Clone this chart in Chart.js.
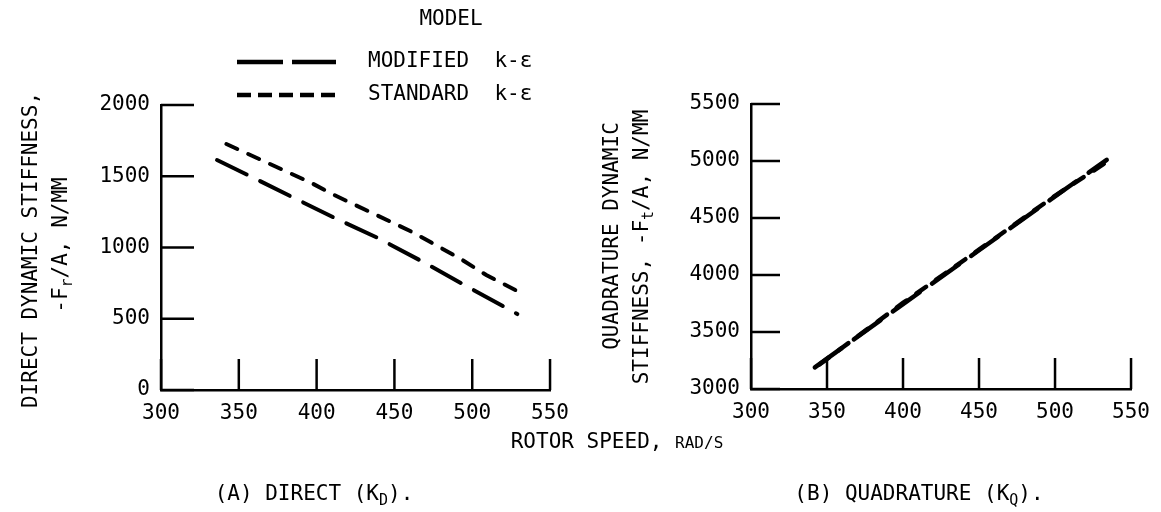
<!DOCTYPE html>
<html>
<head>
<meta charset="utf-8">
<script src="https://cdn.jsdelivr.net/npm/chart.js@4.4.1/dist/chart.umd.min.js"></script>
<style>
  body { margin: 0; background: #fff; }
  #wrap { position: relative; width: 1161px; height: 512px; overflow: hidden; font-family: 'DejaVu Sans Mono', monospace; color: #000; }
  .box { position: absolute; top: 0; height: 512px; }
  .t { position: absolute; white-space: pre; font-size: 21px; line-height: 1; }
  .rot { transform: translate(-50%, -50%) rotate(-90deg); }
  .ctr { transform: translate(-50%, -50%); }
  sub { font-size: 15px; vertical-align: -5px; line-height: 0; }
  small { font-size: 16px; }
</style>
</head>
<body>
<div id="wrap">
  <div class="box" style="left:0;width:580px"><canvas id="direct"></canvas></div>
  <div class="box" style="left:580px;width:581px"><canvas id="quad"></canvas></div>

  <div class="t rot" style="left:30px;top:250px">DIRECT DYNAMIC STIFFNESS,</div>
  <div class="t rot" style="left:60px;top:245px">-F<sub>r</sub>/A, N/MM</div>
  <div class="t rot" style="left:611px;top:236px">QUADRATURE DYNAMIC</div>
  <div class="t rot" style="left:641px;top:247px">STIFFNESS, -F<sub>t</sub>/A, N/MM</div>

  <div class="t ctr" style="left:617px;top:441px">ROTOR SPEED, <small>RAD/S</small></div>
  <div class="t ctr" style="left:314px;top:493px">(A) DIRECT (K<sub>D</sub>).</div>
  <div class="t ctr" style="left:919px;top:493px">(B) QUADRATURE (K<sub>Q</sub>).</div>
</div>

<script>
Chart.defaults.font.family = "'DejaVu Sans Mono', monospace";
Chart.defaults.font.size = 21;
Chart.defaults.color = '#000';

// (A) direct stiffness, N/mm vs rotor speed, rad/s
const directSpeedModified = [336, 357, 386, 412, 439, 467, 495, 529];
const directModified      = [1614, 1502, 1345, 1205, 1069, 907, 737, 533];
const directSpeedStandard = [342, 369, 397, 410, 461, 492, 509, 531];
const directStandard      = [1726, 1591, 1451, 1375, 1111, 924, 807, 683];

// (B) quadrature stiffness
const quadSpeedModified = [342, 400, 450, 500, 534];
const quadModified      = [3190, 3745, 4217, 4690, 5010];
const quadSpeedStandard = [345, 400, 450, 500, 535];
const quadStandard      = [3215, 3755, 4222, 4695, 5000];

const speedTicks = [300, 350, 400, 450, 500, 550];
const directTicks = [0, 500, 1000, 1500, 2000];
const quadTicks = [3000, 3500, 4000, 4500, 5000, 5500];

const MODIFIED_DASH = [33, 15];
const STANDARD_DASH = [12, 12];

const toXY = (xs, ys) => xs.map((x, i) => ({ x, y: ys[i] }));

// short tick marks drawn inward from the axes
const inwardTicks = {
  id: 'inwardTicks',
  afterDraw(chart, args, opts) {
    const { ctx, chartArea: a, scales: { x, y } } = chart;
    ctx.save();
    ctx.strokeStyle = '#000';
    ctx.lineWidth = 2.5;
    x.ticks.forEach(t => {
      const px = x.getPixelForValue(t.value);
      ctx.beginPath(); ctx.moveTo(px, a.bottom); ctx.lineTo(px, a.bottom - opts.xLen); ctx.stroke();
    });
    y.ticks.forEach(t => {
      const py = y.getPixelForValue(t.value);
      ctx.beginPath(); ctx.moveTo(a.left, py); ctx.lineTo(a.left + opts.yLen, py); ctx.stroke();
    });
    ctx.restore();
  }
};

// "MODEL" legend above the left panel
const modelLegend = {
  id: 'modelLegend',
  afterDraw(chart, args, opts) {
    if (!opts.show) return;
    const ctx = chart.ctx;
    ctx.save();
    ctx.fillStyle = '#000';
    ctx.font = "21px 'DejaVu Sans Mono', monospace";
    ctx.textBaseline = 'middle';
    ctx.textAlign = 'center';
    ctx.fillText(opts.title, opts.titleX, opts.titleY);
    ctx.textAlign = 'left';
    chart.data.datasets.forEach((ds, i) => {
      const y = opts.rows[i];
      ctx.strokeStyle = '#000';
      ctx.lineWidth = 4.5;
      ctx.setLineDash(opts.dashes[i]);
      ctx.beginPath(); ctx.moveTo(opts.x, y); ctx.lineTo(opts.x + opts.width, y); ctx.stroke();
      ctx.setLineDash([]);
      ctx.fillText(ds.label, opts.textX, y);
    });
    ctx.restore();
  }
};

function makeChart(id, cfg) {
  const series = (label, data, dash, width) => ({
    label, data, borderColor: '#000', borderWidth: width, borderDash: dash,
    borderCapStyle: 'round', pointRadius: 0, tension: 0, fill: false
  });
  return new Chart(document.getElementById(id), {
    type: 'line',
    data: {
      datasets: [
        series('MODIFIED  k-ε', cfg.modified, MODIFIED_DASH, cfg.lineWidth),
        series('STANDARD  k-ε', cfg.standard, STANDARD_DASH, cfg.lineWidth)
      ]
    },
    options: {
      responsive: false,
      animation: false,
      layout: { padding: cfg.padding },
      plugins: {
        legend: { display: false },
        tooltip: { enabled: false },
        inwardTicks: { xLen: 31, yLen: cfg.yTickLen },
        modelLegend: cfg.legend
      },
      scales: {
        x: {
          type: 'linear', min: 300, max: 550,
          afterBuildTicks: s => { s.ticks = speedTicks.map(v => ({ value: v })); },
          afterFit: s => { s.height = cfg.xHeight; },
          grid: { display: false, drawTicks: false },
          border: { display: true, color: '#000', width: 2.5 },
          ticks: { padding: 11, maxRotation: 0, callback: v => String(v) }
        },
        y: {
          type: 'linear', min: cfg.yTicks[0], max: cfg.yTicks[cfg.yTicks.length - 1],
          afterBuildTicks: s => { s.ticks = cfg.yTicks.map(v => ({ value: v })); },
          afterFit: s => { s.width = cfg.yWidth; },
          grid: { display: false, drawTicks: false },
          border: { display: true, color: '#000', width: 2.5 },
          ticks: { padding: 11, callback: v => String(v) }
        }
      }
    },
    plugins: [inwardTicks, modelLegend]
  });
}

function sizeCanvas(id, w, h) {
  const c = document.getElementById(id);
  c.width = w; c.height = h;
  c.style.width = w + 'px'; c.style.height = h + 'px';
}

sizeCanvas('direct', 580, 512);
sizeCanvas('quad', 581, 512);

makeChart('direct', {
  modified: toXY(directSpeedModified, directModified),
  standard: toXY(directSpeedStandard, directStandard),
  yTicks: directTicks,
  lineWidth: 4,
  yTickLen: 33,
  padding: { left: 0, right: 29, top: 105, bottom: 0 },
  yWidth: 161,
  xHeight: 122,
  legend: { show: true, title: 'MODEL', titleX: 451, titleY: 20, x: 237, width: 99, textX: 368, rows: [62, 95], dashes: [[46, 9], [14, 7]] }
});

makeChart('quad', {
  modified: toXY(quadSpeedModified, quadModified),
  standard: toXY(quadSpeedStandard, quadStandard),
  yTicks: quadTicks,
  lineWidth: 4.5,
  yTickLen: 29,
  padding: { left: 0, right: 23, top: 104, bottom: 0 },
  yWidth: 171,
  xHeight: 123,
  legend: { show: false }
});
</script>
</body>
</html>
